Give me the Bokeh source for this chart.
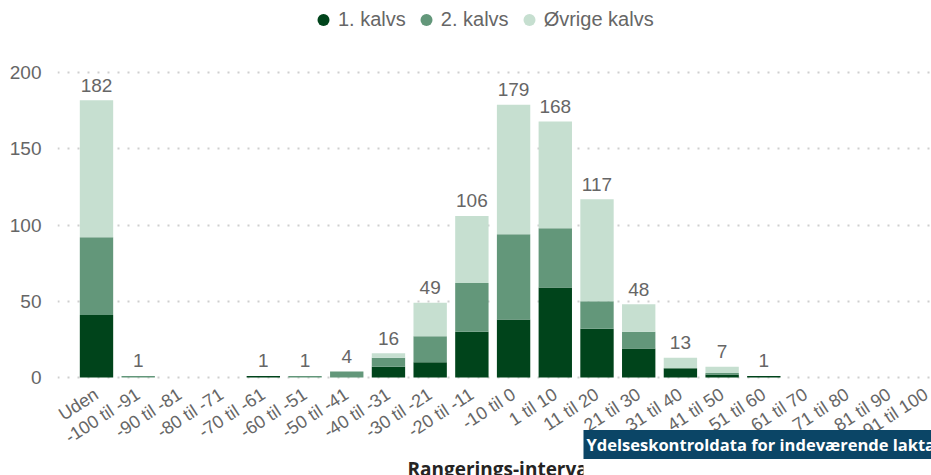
from bokeh.plotting import figure
from bokeh.models import (ColumnDataSource, Range1d, FixedTicker, Legend, LegendItem,
                          Label, BoxAnnotation)
from bokeh.core.properties import value
from bokeh.embed import file_html
from bokeh.resources import INLINE

categories = ["Uden", "-100 til -91", "-90 til -81", "-80 til -71", "-70 til -61",
              "-60 til -51", "-50 til -41", "-40 til -31", "-30 til -21", "-20 til -11",
              "-10 til 0", "1 til 10", "11 til 20", "21 til 30", "31 til 40",
              "41 til 50", "51 til 60", "61 til 70", "71 til 80", "81 til 90", "91 til 100"]
kalvs1 = [41, 0, 0, 0, 1, 0, 0, 7, 10, 30, 38, 59, 32, 19, 6, 2, 1, 0, 0, 0, 0]
kalvs2 = [51, 1, 0, 0, 0, 1, 4, 6, 17, 32, 56, 39, 18, 11, 0, 1, 0, 0, 0, 0, 0]
ovrige = [90, 0, 0, 0, 0, 0, 0, 3, 22, 44, 85, 70, 67, 18, 7, 4, 0, 0, 0, 0, 0]
series = ["1. kalvs", "2. kalvs", "Øvrige kalvs"]
colors = ["#00441B", "#63977A", "#C6DFD0"]
y_ticks = [0, 50, 100, 150, 200]
x_title = "Rangerings-interval"
box_text = "Ydelseskontroldata for indeværende laktation"

FONT = "Liberation Sans"
GREY = "#666666"

xs = list(range(len(categories)))
totals = [a + b + c for a, b, c in zip(kalvs1, kalvs2, ovrige)]
src = ColumnDataSource(dict(x=xs, k1=kalvs1, k2=kalvs2, ov=ovrige))

p = figure(width=931, height=475, output_backend="svg", toolbar_location=None,
           x_range=Range1d(-0.935, 20.02), y_range=Range1d(-64.3, 247.4),
           min_border_left=57, min_border_right=0, min_border_top=0, min_border_bottom=0)
p.outline_line_color = None

p.vbar_stack(["k1", "k2", "ov"], x="x", width=0.8, color=colors, line_color=None, source=src)

lab_x = [x for x, t in zip(xs, totals) if t > 0]
lab_y = [t for t in totals if t > 0]
lab_src = ColumnDataSource(dict(x=lab_x, y=lab_y, t=[str(t) for t in lab_y]))
p.text(x="x", y="y", text="t", source=lab_src, text_font=value(FONT),
       text_font_size="19px", text_color=GREY, text_align="center",
       text_baseline="alphabetic", y_offset=-15)

# x axis sits at y = 0 inside the frame
p.xaxis.fixed_location = 0
p.xaxis.ticker = FixedTicker(ticks=xs)
p.xaxis.major_label_overrides = {i: c for i, c in zip(xs, categories)}
p.xaxis.major_label_orientation = 0.576
p.xaxis.major_label_text_font = FONT
p.xaxis.major_label_text_font_size = "18px"
p.xaxis.major_label_text_color = GREY
p.xaxis.major_label_standoff = 15
p.xaxis.major_tick_out = 0
p.xaxis.major_tick_in = 0
p.xaxis.axis_line_color = None
p.xaxis.major_tick_line_color = None
p.xaxis.minor_tick_line_color = None

p.yaxis.ticker = FixedTicker(ticks=y_ticks)
p.yaxis.major_label_text_font = FONT
p.yaxis.major_label_text_font_size = "19px"
p.yaxis.major_label_text_color = GREY
p.yaxis.major_label_standoff = 16
p.yaxis.major_tick_out = 0
p.yaxis.major_tick_in = 0
p.yaxis.axis_line_color = None
p.yaxis.major_tick_line_color = None
p.yaxis.minor_tick_line_color = None

p.xgrid.visible = False
p.ygrid.grid_line_color = "#cfcfcf"
p.ygrid.grid_line_width = 2
p.ygrid.grid_line_dash = "2 8"

# legend with circle markers (size-0 scatter renderers only feed the legend)
items = []
for name, col, key in zip(series, colors, ["k1", "k2", "ov"]):
    r = p.scatter(x="x", y=key, source=src, marker="circle", size=0,
                  fill_color=col, line_color=None)
    items.append(LegendItem(label=name, renderers=[r]))
legend = Legend(items=items, orientation="horizontal", location=(251, 438.5),
                glyph_width=30, glyph_height=35, label_standoff=0, spacing=5,
                padding=0, margin=0, border_line_color=None, background_fill_alpha=0,
                label_text_font=FONT, label_text_font_size="20px", label_text_color=GREY)
p.add_layout(legend)

# axis title, partly covered by the overlaid dark box and its white container
p.add_layout(Label(x=443, y=7, x_units="screen", y_units="screen", text=x_title,
                   text_font="Open Sans", text_font_style="bold", text_font_size="19px",
                   text_color="#252423", text_align="center", text_baseline="alphabetic"))
p.add_layout(BoxAnnotation(left=526, right=874, bottom=0, top=17,
                           left_units="screen", right_units="screen",
                           bottom_units="screen", top_units="screen",
                           fill_color="white", fill_alpha=1.0, line_color=None))
p.add_layout(Label(x=526, y=31, x_units="screen", y_units="screen", text=box_text,
                   text_font="Open Sans", text_font_style="bold", text_font_size="16.5px",
                   text_color="white", text_align="left", text_baseline="middle",
                   background_fill_color="#0B4566", padding=3))

open("out.html", "w").write(file_html(p, INLINE))
